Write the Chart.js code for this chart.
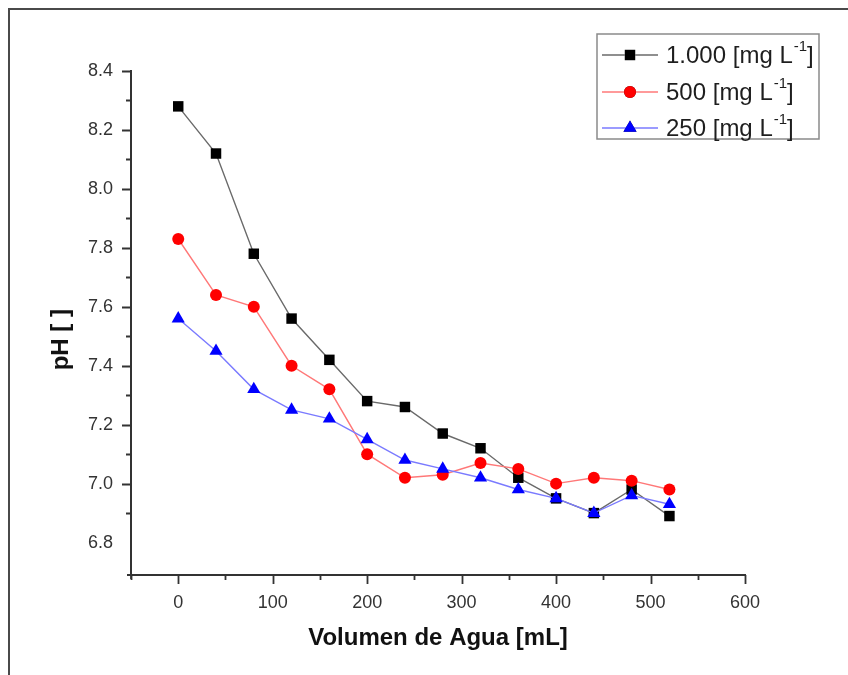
<!DOCTYPE html>
<html>
<head>
<meta charset="utf-8">
<script src="https://cdn.jsdelivr.net/npm/chart.js@4.4.1/dist/chart.umd.min.js"></script>
<style>
  html, body { margin: 0; padding: 0; background: #ffffff; }
  #wrap { position: relative; width: 848px; height: 675px; }
</style>
</head>
<body>
<div id="wrap"><canvas id="chart" width="848" height="675"></canvas></div>
<script>
// Water volume added (mL) and the measured pH for each dose
const volumes = [0, 40, 80, 120, 160, 200, 240, 280, 320, 360, 400, 440, 480, 520];
const ph1000 = [8.28, 8.12, 7.78, 7.56, 7.42, 7.28, 7.26, 7.17, 7.12, 7.02, 6.95, 6.90, 6.98, 6.89];
const ph500  = [7.83, 7.64, 7.60, 7.40, 7.32, 7.10, 7.02, 7.03, 7.07, 7.05, 7.00, 7.02, 7.01, 6.98];
const ph250  = [7.56, 7.45, 7.32, 7.25, 7.22, 7.15, 7.08, 7.05, 7.02, 6.98, 6.95, 6.90, 6.96, 6.93];

// Legend text pieces: dose, unit, exponent
const doseLabels = ['1.000', '500', '250'];
const unitText = '[mg L';
const unitExp = '-1';

// Axis tick labels
const xTickValues = [0, 100, 200, 300, 400, 500, 600];
const yTickValues = [6.8, 7.0, 7.2, 7.4, 7.6, 7.8, 8.0, 8.2, 8.4];

const xTitle = 'Volumen de Agua [mL]';
const yTitle = 'pH [ ]';

const toPoints = arr => volumes.map((v, i) => ({ x: v, y: arr[i] }));

// Outer frame around the figure
const framePlugin = {
  id: 'frame',
  beforeDraw(chart) {
    const ctx = chart.ctx;
    ctx.save();
    ctx.strokeStyle = '#4a4a4a';
    ctx.lineWidth = 2;
    ctx.beginPath();
    ctx.moveTo(9, chart.height);
    ctx.lineTo(9, 9);
    ctx.lineTo(chart.width, 9);
    ctx.stroke();
    ctx.restore();
  }
};

// Outward major and minor tick marks on both axes
const tickPlugin = {
  id: 'originTicks',
  afterDraw(chart) {
    const ctx = chart.ctx;
    const xs = chart.scales.x, ys = chart.scales.y;
    const area = chart.chartArea;
    ctx.save();
    ctx.strokeStyle = '#333333';
    ctx.lineWidth = 1.8;
    ctx.beginPath();
    // x axis
    for (let v = -50; v <= 600; v += 50) {
      const px = Math.round(xs.getPixelForValue(v)) + 0.5;
      const len = (v % 100 === 0) ? 9 : 5;
      ctx.moveTo(px, area.bottom);
      ctx.lineTo(px, area.bottom + len);
    }
    // y axis
    for (let k = 69; k <= 84; k++) {
      const v = k / 10;
      if (v < ys.min) continue;
      const py = Math.round(ys.getPixelForValue(v)) + 0.5;
      const len = (k % 2 === 0) ? 9 : 5;
      ctx.moveTo(area.left, py);
      ctx.lineTo(area.left - len, py);
    }
    // small overshoot of the axis lines at the origin corner
    ctx.moveTo(area.left, area.bottom);
    ctx.lineTo(area.left, area.bottom + 4);
    ctx.moveTo(area.left, area.bottom);
    ctx.lineTo(area.left - 4, area.bottom);
    ctx.stroke();
    ctx.restore();
  }
};

// Boxed legend with superscript unit exponent
const legendPlugin = {
  id: 'boxLegend',
  afterDraw(chart) {
    const ctx = chart.ctx;
    const box = { x: 597, y: 34, w: 222, h: 105 };
    ctx.save();
    ctx.fillStyle = '#ffffff';
    ctx.fillRect(box.x, box.y, box.w, box.h);
    ctx.strokeStyle = '#8a8a8a';
    ctx.lineWidth = 1.5;
    ctx.strokeRect(box.x, box.y, box.w, box.h);
    const rows = [55, 92, 128];
    chart.data.datasets.forEach((ds, i) => {
      const y = rows[i];
      ctx.strokeStyle = ds.borderColor;
      ctx.lineWidth = ds.borderWidth;
      ctx.beginPath();
      ctx.moveTo(602, y);
      ctx.lineTo(658, y);
      ctx.stroke();
      Chart.helpers.drawPoint(ctx, {
        pointStyle: ds.pointStyle,
        radius: ds.pointRadius,
        borderWidth: 0
      }, 630, y);
      ctx.fillStyle = ds.pointBackgroundColor;
      ctx.fill();
      // text
      ctx.fillStyle = '#1e1e1e';
      ctx.textBaseline = 'middle';
      ctx.textAlign = 'left';
      ctx.font = '24px "Liberation Sans", Arial, sans-serif';
      const main = doseLabels[i] + ' ' + unitText;
      let tx = 666;
      ctx.fillText(main, tx, y + 1);
      tx += ctx.measureText(main).width;
      ctx.font = '15px "Liberation Sans", Arial, sans-serif';
      ctx.fillText(unitExp, tx + 1, y - 8);
      tx += ctx.measureText(unitExp).width + 1;
      ctx.font = '24px "Liberation Sans", Arial, sans-serif';
      ctx.fillText(']', tx, y + 1);
    });
    ctx.restore();
  }
};

const makeSet = (label, data, lineColor, pointColor, style, radius, order) => ({
  label,
  data: toPoints(data),
  showLine: true,
  borderColor: lineColor,
  borderWidth: 1.4,
  backgroundColor: pointColor,
  pointBackgroundColor: pointColor,
  pointBorderColor: pointColor,
  pointBorderWidth: 0,
  pointStyle: style,
  pointRadius: radius,
  pointHoverRadius: radius,
  tension: 0,
  fill: false,
  order
});

new Chart(document.getElementById('chart'), {
  type: 'scatter',
  data: {
    datasets: [
      makeSet('1.000 [mg L⁻¹]', ph1000, '#6a6a6a', '#000000', 'rect', 7.4, 3),
      makeSet('500 [mg L⁻¹]', ph500, '#ff7878', '#ff0000', 'circle', 6, 2),
      makeSet('250 [mg L⁻¹]', ph250, '#7a7aff', '#0000ff', 'triangle', 7.6, 1)
    ]
  },
  options: {
    responsive: false,
    animation: false,
    devicePixelRatio: 1,
    layout: { padding: { left: 0, right: 103, top: 71, bottom: 0 } },
    plugins: { legend: { display: false }, tooltip: { enabled: false } },
    scales: {
      x: {
        type: 'linear',
        position: 'bottom',
        min: -50,
        max: 600,
        afterBuildTicks: s => { s.ticks = xTickValues.map(v => ({ value: v })); },
        afterFit: s => { s.height = 100; },
        grid: { display: true, drawOnChartArea: false, drawTicks: false },
        border: { display: true, color: '#333333', width: 2 },
        ticks: {
          autoSkip: false, maxRotation: 0, padding: 17,
          color: '#333333',
          font: { family: '"Liberation Sans", Arial, sans-serif', size: 18 },
          callback: v => String(v)
        },
        title: {
          display: true, text: xTitle, color: '#111111',
          font: { family: '"Liberation Sans", Arial, sans-serif', size: 24, weight: 'bold' },
          padding: { top: 0, bottom: 22 }
        }
      },
      y: {
        type: 'linear',
        position: 'left',
        min: 6.69,
        max: 8.4,
        afterBuildTicks: s => { s.ticks = yTickValues.map(v => ({ value: v })); },
        afterFit: s => { s.width = 131; },
        grid: { display: true, drawOnChartArea: false, drawTicks: false },
        border: { display: true, color: '#333333', width: 2 },
        ticks: {
          autoSkip: false, padding: 18,
          color: '#333333',
          font: { family: '"Liberation Sans", Arial, sans-serif', size: 18 },
          callback: v => Number(v).toFixed(1)
        },
        title: {
          display: true, text: yTitle + '     ', color: '#111111',
          font: { family: '"Liberation Sans", Arial, sans-serif', size: 24, weight: 'bold' },
          padding: { top: 47, bottom: 0 }
        }
      }
    }
  },
  plugins: [framePlugin, tickPlugin, legendPlugin]
});
</script>
</body>
</html>
